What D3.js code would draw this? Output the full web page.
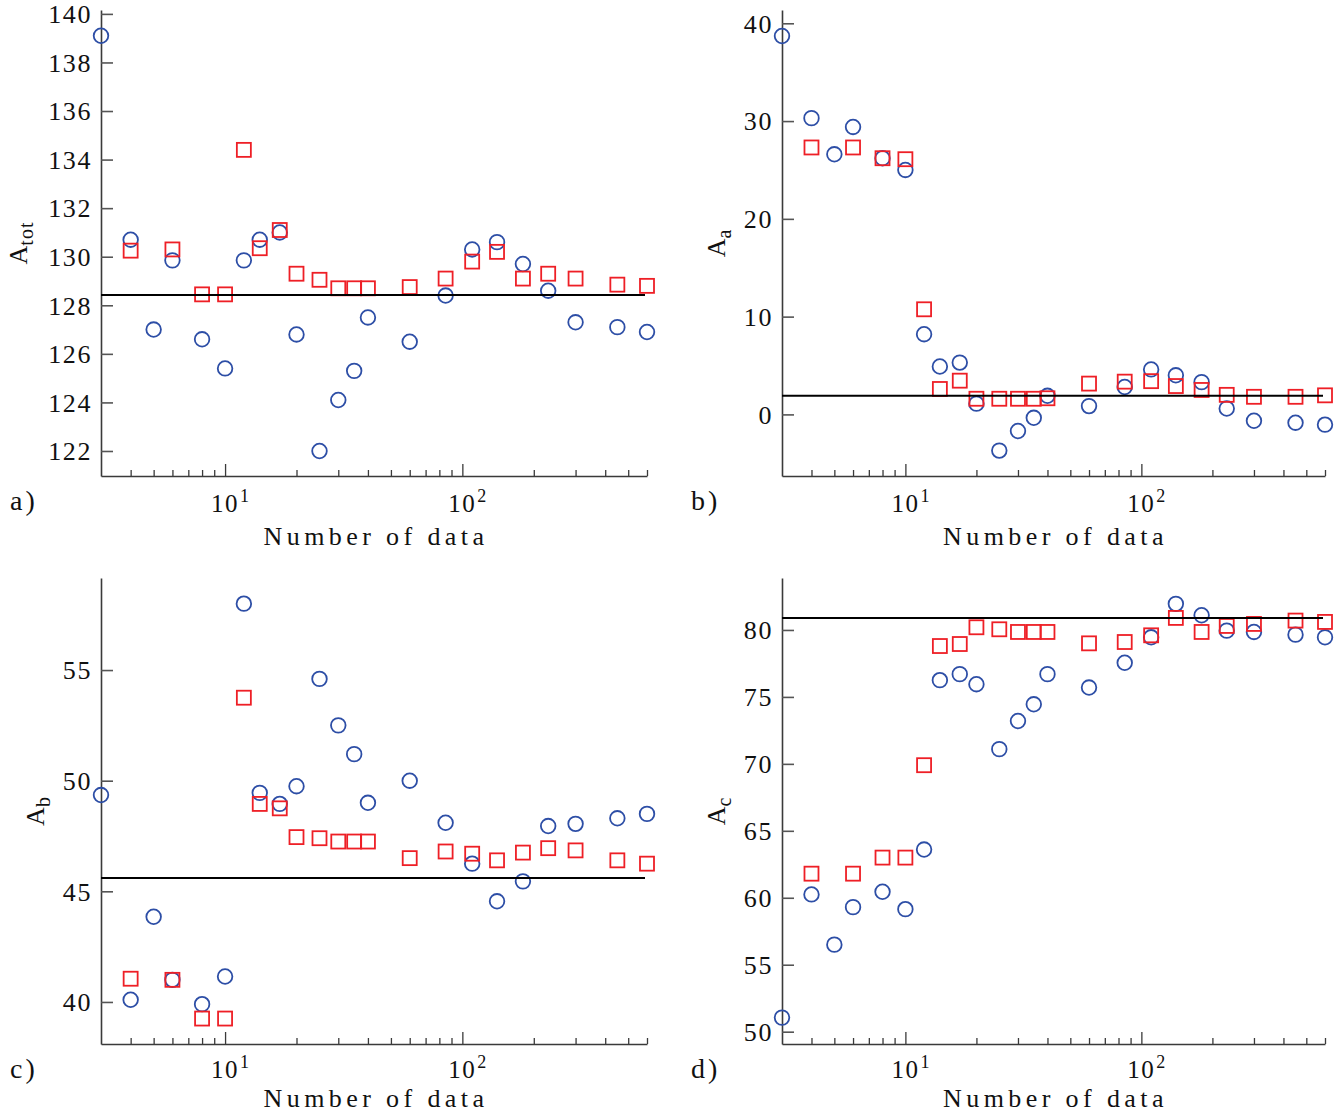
<!DOCTYPE html>
<html><head><meta charset="utf-8">
<script src="https://cdn.jsdelivr.net/npm/d3@7"></script>
<style>
html,body{margin:0;padding:0;background:#fff;}
svg{display:block;}
text{font-family:"Liberation Serif","Times New Roman",serif;fill:#111;}
</style></head>
<body>
<svg id="chart" width="1335" height="1120"></svg>
<script>
// ---- data ----
const nCircle = [3,4,5,6,8,10,12,14,17,20,25,30,35,40,60,85,110,140,180,230,300,450,600];
const nSquare = [4,6,8,10,12,14,17,20,25,30,35,40,60,85,110,140,180,230,300,450,600];

const aCircle = [139.1,130.7,127.0,129.85,126.6,125.4,129.85,130.7,131.0,126.8,122.0,124.1,125.3,127.5,126.5,128.4,130.3,130.6,129.7,128.6,127.3,127.1,126.9];
const aSquare = [130.25,130.3,128.45,128.45,134.4,130.35,131.1,129.3,129.05,128.7,128.7,128.7,128.75,129.1,129.8,130.2,129.1,129.3,129.1,128.85,128.8];
const aRef = 128.42;

const bCircle = [38.7,30.3,26.6,29.4,26.2,25.0,8.2,4.9,5.3,1.1,-3.7,-1.7,-0.35,1.9,0.85,2.8,4.6,4.0,3.3,0.6,-0.65,-0.85,-1.05];
const bSquare = [27.3,27.3,26.2,26.1,10.75,2.6,3.45,1.6,1.6,1.6,1.6,1.65,3.15,3.35,3.4,2.9,2.5,2.0,1.8,1.8,1.95];
const bRef = 1.9;

const cCircle = [49.35,40.1,43.85,41.0,39.9,41.15,58.0,49.45,48.95,49.75,54.6,52.5,51.2,49.0,50.0,48.1,46.25,44.55,45.45,47.95,48.05,48.3,48.5];
const cSquare = [41.05,41.0,39.25,39.25,53.75,48.95,48.75,47.45,47.4,47.25,47.25,47.25,46.5,46.8,46.7,46.4,46.75,46.95,46.85,46.4,46.25];
const cRef = 45.6;

const dCircle = [51.05,60.25,56.5,59.3,60.45,59.15,63.6,76.25,76.7,75.95,71.1,73.2,74.45,76.7,75.7,77.55,79.45,81.95,81.1,79.95,79.85,79.65,79.45];
const dSquare = [61.8,61.8,63.0,63.0,69.9,78.8,78.95,80.2,80.05,79.85,79.85,79.85,79.0,79.1,79.6,80.9,79.85,80.3,80.45,80.7,80.6];
const dRef = 80.9;

const xDomain = [3, 600];
const xMajor = [10, 100];
const xMinor = [4,5,6,7,8,9,20,30,40,50,60,70,80,90,200,300,400,500,600];

const aTicks = [122,124,126,128,130,132,134,136,138,140];
const bTicks = [0,10,20,30,40];
const cTicks = [40,45,50,55];
const dTicks = [50,55,60,65,70,75,80];

const panels = [
  {tag:"a)", sub:"tot", circ:aCircle, sq:aSquare, ref:aRef, ticks:aTicks, yDom:[120.97,140.16],
   left:101, right:647, top:10, bottom:476, labX:27, tickLab:36, titleOff:69, tagY:510},
  {tag:"b)", sub:"a", circ:bCircle, sq:bSquare, ref:bRef, ticks:bTicks, yDom:[-6.3,41.36],
   left:782, right:1325, top:10, bottom:476, labX:725, tickLab:36, titleOff:69, tagY:510},
  {tag:"c)", sub:"b", circ:cCircle, sq:cSquare, ref:cRef, ticks:cTicks, yDom:[38.1,59.16],
   left:101, right:647, top:578, bottom:1044, labX:44, tickLab:34, titleOff:63, tagY:1078},
  {tag:"d)", sub:"c", circ:dCircle, sq:dSquare, ref:dRef, ticks:dTicks, yDom:[49.08,83.88],
   left:782, right:1325, top:578, bottom:1044, labX:725, tickLab:34, titleOff:63, tagY:1078}
];

const svg = d3.select("#chart");
const circColor = "#2d4ea6";
const sqColor = "#ee1f26";
const axisColor = "#3a3a3a";

panels.forEach(p => {
  const x = d3.scaleLog().domain(xDomain).range([p.left, p.right]);
  const y = d3.scaleLinear().domain(p.yDom).range([p.bottom, p.top]);
  const g = svg.append("g");

  // y axis
  const yAx = g.append("g").attr("transform", `translate(${p.left},0)`)
    .call(d3.axisLeft(y).tickValues(p.ticks).tickSizeInner(-12).tickSizeOuter(0).tickPadding(9).tickFormat(d3.format("d")));
  yAx.select(".domain").attr("stroke", axisColor).attr("stroke-width", 1.6);
  yAx.selectAll(".tick line").attr("stroke", "#555").attr("stroke-width", 1.6);
  yAx.selectAll(".tick text").attr("font-size", 26).attr("font-family", "Liberation Serif")
     .attr("letter-spacing", "1.6px").attr("fill", "#111").attr("dy", "0.34em");

  // x axis minor
  const xMin = g.append("g").attr("transform", `translate(0,${p.bottom})`)
    .call(d3.axisBottom(x).tickValues(xMinor).tickSizeInner(-6).tickSizeOuter(0).tickFormat(""));
  xMin.select(".domain").attr("stroke", axisColor).attr("stroke-width", 1.6);
  xMin.selectAll(".tick line").attr("stroke", axisColor).attr("stroke-width", 1.3);
  // x axis major
  const xMaj = g.append("g").attr("transform", `translate(0,${p.bottom})`)
    .call(d3.axisBottom(x).tickValues(xMajor).tickSizeInner(-12).tickSizeOuter(0).tickFormat(""));
  xMaj.select(".domain").remove();
  xMaj.selectAll(".tick line").attr("stroke", axisColor).attr("stroke-width", 1.3);
  // major labels 10^k
  xMajor.forEach(v => {
    const t = g.append("text").attr("x", x(v)).attr("y", p.bottom + p.tickLab)
      .attr("font-size", 25).attr("text-anchor", "start").attr("letter-spacing", "1.5px");
    t.append("tspan").text("10").attr("dx", -14);
    t.append("tspan").text(String(Math.round(Math.log10(v)))).attr("font-size", 18).attr("dy", -10).attr("dx", 1);
  });

  // x title
  g.append("text").attr("x", (p.left + p.right) / 2 + 2).attr("y", p.bottom + p.titleOff)
    .attr("text-anchor", "middle").attr("font-size", 26).attr("letter-spacing", "4.4px").text("Number of data");

  // panel tag
  g.append("text").attr("x", p.left - 91).attr("y", p.tagY).attr("font-size", 28).attr("letter-spacing", "3px").text(p.tag);

  // y label
  const yl = g.append("text")
    .attr("transform", `translate(${p.labX},${(p.top + p.bottom) / 2}) rotate(-90)`)
    .attr("text-anchor", "middle").attr("font-size", 26);
  yl.append("tspan").text("A");
  yl.append("tspan").text(p.sub).attr("font-size", 20).attr("dy", 6).attr("letter-spacing", "1px");

  // circles
  g.append("g").selectAll("circle").data(nCircle.map((n, i) => [n, p.circ[i]])).join("circle")
    .attr("cx", d => x(d[0])).attr("cy", d => y(d[1])).attr("r", 7.3)
    .attr("fill", "none").attr("stroke", circColor).attr("stroke-width", 1.8);

  // squares
  const s = 14;
  g.append("g").selectAll("rect").data(nSquare.map((n, i) => [n, p.sq[i]])).join("rect")
    .attr("x", d => x(d[0]) - s / 2).attr("y", d => y(d[1]) - s / 2).attr("width", s).attr("height", s)
    .attr("fill", "none").attr("stroke", sqColor).attr("stroke-width", 1.8);

  // reference line
  g.append("line").attr("x1", p.left).attr("x2", x(600) - 2)
    .attr("y1", y(p.ref)).attr("y2", y(p.ref)).attr("stroke", "#000").attr("stroke-width", 2);
});
</script>
</body></html>
